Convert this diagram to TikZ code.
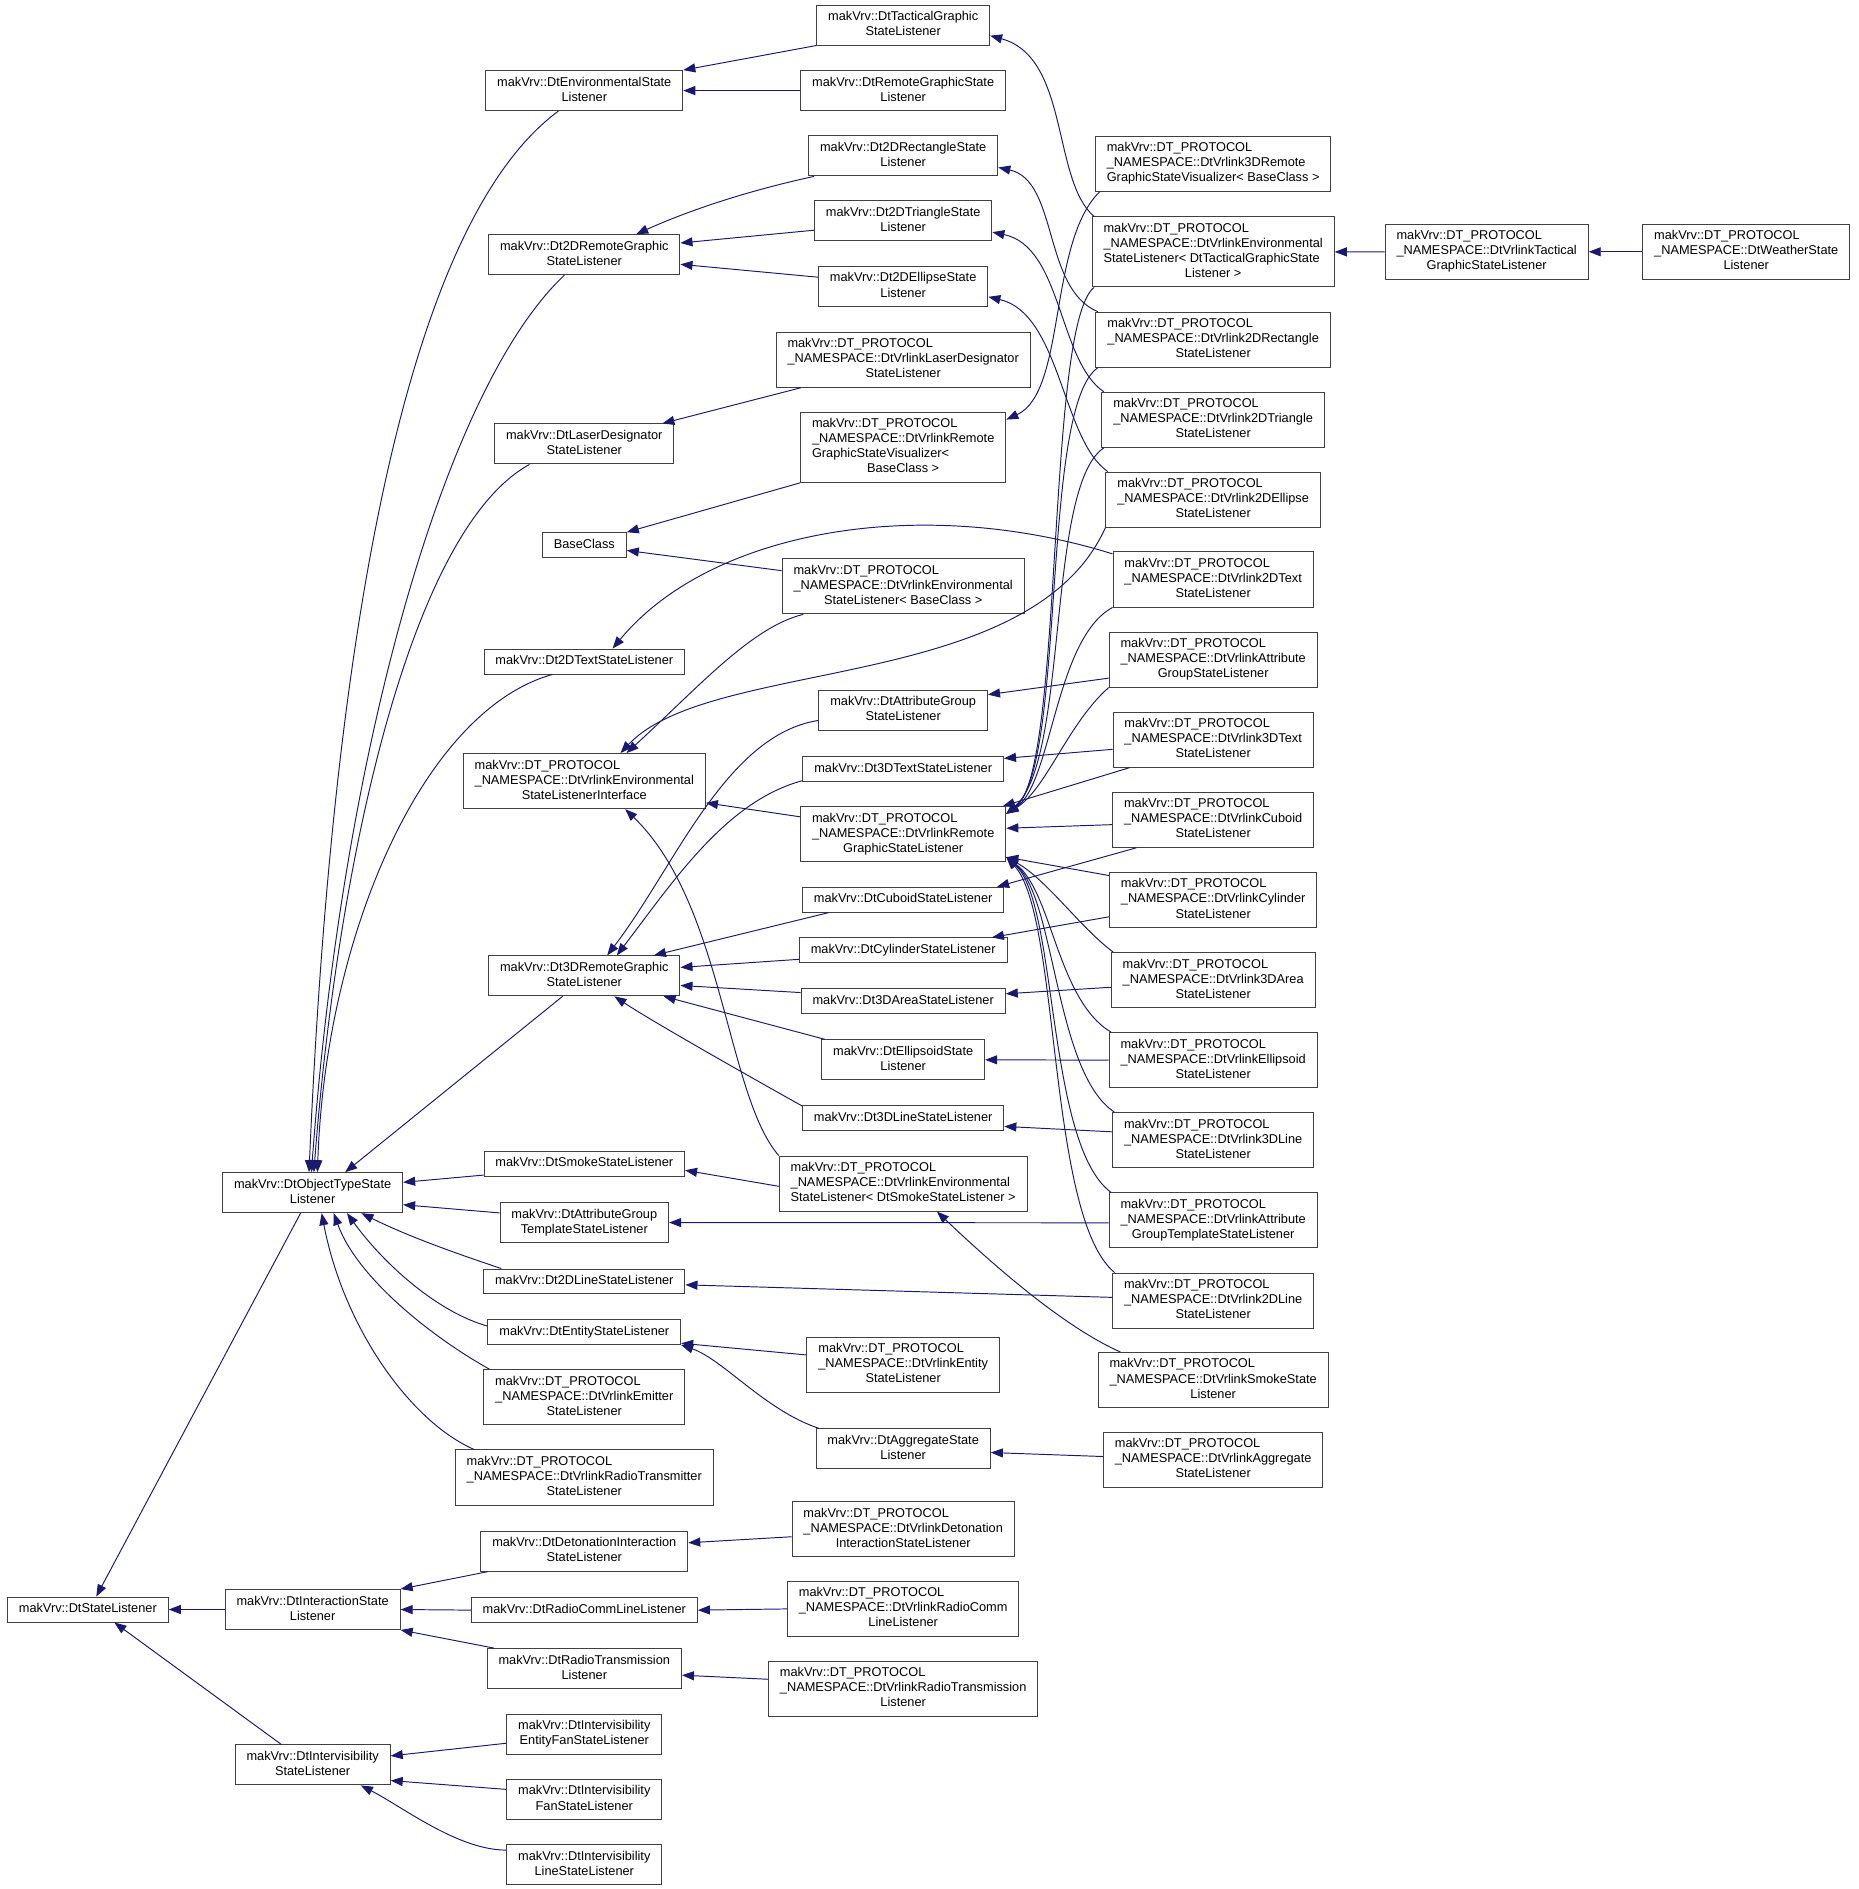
\documentclass[tikz,border=0pt]{standalone}
\usepackage{fontspec}
\setmainfont{Liberation Sans}
\usepackage{tikz}
\usetikzlibrary{arrows.meta, calc}
\definecolor{edgeNavy}{RGB}{25, 25, 112}
\definecolor{boxGray}{RGB}{64, 64, 64}
% first lines left, last line centred
\newcommand{\twoline}[2]{\begin{tabular}{@{}l@{}}#1\\\multicolumn{1}{@{}c@{}}{#2}\end{tabular}}
\newcommand{\oneline}[1]{\begin{tabular}{@{}c@{}}#1\end{tabular}}

\begin{document}
\begin{tikzpicture}[x=1pt, y=-1pt,
    cls/.style={draw=boxGray, line width=0.8pt, fill=white, inner xsep=9.5pt, inner ysep=4.1pt,
        font=\fontsize{10.6}{12.5}\selectfont},
    inh/.style={draw=edgeNavy, line width=0.8pt, {Triangle[length=10pt,width=7.5pt]}-}]
    \useasboundingbox (0,0) rectangle (1543,1568);

    % base classes
    \node[cls] (root) at (72.9,1336) {\oneline{makVrv::DtStateListener}};
    \node[cls] (otsl) at (259.5,990) {\twoline{makVrv::DtObjectTypeState}{Listener}};
    \node[cls] (isl) at (259.5,1336) {\twoline{makVrv::DtInteractionState}{Listener}};
    \node[cls] (ivsl) at (259.5,1465) {\twoline{makVrv::DtIntervisibility}{StateListener}};

    % third column
    \node[cls] (envstate) at (485,75.2) {\twoline{makVrv::DtEnvironmentalState}{Listener}};
    \node[cls] (remote2d) at (485,211.4) {\twoline{makVrv::Dt2DRemoteGraphic}{StateListener}};
    \node[cls] (laser) at (485,368.5) {\twoline{makVrv::DtLaserDesignator}{StateListener}};
    \node[cls] (baseclass) at (485,452.5) {\oneline{BaseClass}};
    \node[cls] (text2d) at (485,549.1) {\oneline{makVrv::Dt2DTextStateListener}};
    \node[cls] (envif) at (485,648.4) {\twoline{makVrv::DT\_PROTOCOL\\\_NAMESPACE::DtVrlinkEnvironmental}{StateListenerInterface}};
    \node[cls] (remote3d) at (485,810) {\twoline{makVrv::Dt3DRemoteGraphic}{StateListener}};
    \node[cls] (smoke) at (485,966) {\oneline{makVrv::DtSmokeStateListener}};
    \node[cls] (attrtmpl) at (485,1014.8) {\twoline{makVrv::DtAttributeGroup}{TemplateStateListener}};
    \node[cls] (line2d) at (485,1063.7) {\oneline{makVrv::Dt2DLineStateListener}};
    \node[cls] (entity) at (485,1105.7) {\oneline{makVrv::DtEntityStateListener}};
    \node[cls] (emitter) at (485,1159.7) {\twoline{makVrv::DT\_PROTOCOL\\\_NAMESPACE::DtVrlinkEmitter}{StateListener}};
    \node[cls] (radiotx) at (485,1226.4) {\twoline{makVrv::DT\_PROTOCOL\\\_NAMESPACE::DtVrlinkRadioTransmitter}{StateListener}};
    \node[cls] (detonation) at (485,1287.6) {\twoline{makVrv::DtDetonationInteraction}{StateListener}};
    \node[cls] (radiocomm) at (485,1336.5) {\oneline{makVrv::DtRadioCommLineListener}};
    \node[cls] (radiotrans) at (485,1385) {\twoline{makVrv::DtRadioTransmission}{Listener}};
    \node[cls] (ivEntityFan) at (485,1439.4) {\twoline{makVrv::DtIntervisibility}{EntityFanStateListener}};
    \node[cls] (ivFan) at (485,1493.7) {\twoline{makVrv::DtIntervisibility}{FanStateListener}};
    \node[cls] (ivLine) at (485,1547.7) {\twoline{makVrv::DtIntervisibility}{LineStateListener}};

    % fourth column
    \node[cls] (tactical) at (749.7,20.8) {\twoline{makVrv::DtTacticalGraphic}{StateListener}};
    \node[cls] (remoteGS) at (749.7,75.2) {\twoline{makVrv::DtRemoteGraphicState}{Listener}};
    \node[cls] (rect2d) at (749.7,129.4) {\twoline{makVrv::Dt2DRectangleState}{Listener}};
    \node[cls] (tri2d) at (749.7,183.4) {\twoline{makVrv::Dt2DTriangleState}{Listener}};
    \node[cls] (ell2d) at (749.7,237.8) {\twoline{makVrv::Dt2DEllipseState}{Listener}};
    \node[cls] (vlaser) at (749.7,298.6) {\twoline{makVrv::DT\_PROTOCOL\\\_NAMESPACE::DtVrlinkLaserDesignator}{StateListener}};
    \node[cls] (vviz) at (749.7,371.3) {\twoline{makVrv::DT\_PROTOCOL\\\_NAMESPACE::DtVrlinkRemote\\GraphicStateVisualizer<}{BaseClass >}};
    \node[cls] (venvBase) at (749.7,486.7) {\twoline{makVrv::DT\_PROTOCOL\\\_NAMESPACE::DtVrlinkEnvironmental}{StateListener< BaseClass >}};
    \node[cls] (attrgrp) at (749.7,589.6) {\twoline{makVrv::DtAttributeGroup}{StateListener}};
    \node[cls] (text3d) at (749.7,638.5) {\oneline{makVrv::Dt3DTextStateListener}};
    \node[cls] (vrgsl) at (749.7,692.5) {\twoline{makVrv::DT\_PROTOCOL\\\_NAMESPACE::DtVrlinkRemote}{GraphicStateListener}};
    \node[cls] (cuboid) at (749.7,746.8) {\oneline{makVrv::DtCuboidStateListener}};
    \node[cls] (cylinder) at (749.7,788.9) {\oneline{makVrv::DtCylinderStateListener}};
    \node[cls] (area3d) at (749.7,830.9) {\oneline{makVrv::Dt3DAreaStateListener}};
    \node[cls] (ellipsoid) at (749.7,879.7) {\twoline{makVrv::DtEllipsoidState}{Listener}};
    \node[cls] (line3d) at (749.7,928) {\oneline{makVrv::Dt3DLineStateListener}};
    \node[cls] (venvSmoke) at (749.7,982.4) {\twoline{makVrv::DT\_PROTOCOL\\\_NAMESPACE::DtVrlinkEnvironmental}{StateListener< DtSmokeStateListener >}};
    \node[cls] (ventity) at (749.7,1132.9) {\twoline{makVrv::DT\_PROTOCOL\\\_NAMESPACE::DtVrlinkEntity}{StateListener}};
    \node[cls] (aggregate) at (749.7,1202.7) {\twoline{makVrv::DtAggregateState}{Listener}};
    \node[cls] (vdeton) at (749.7,1269.4) {\twoline{makVrv::DT\_PROTOCOL\\\_NAMESPACE::DtVrlinkDetonation}{InteractionStateListener}};
    \node[cls] (vradiocomm) at (749.7,1335.5) {\twoline{makVrv::DT\_PROTOCOL\\\_NAMESPACE::DtVrlinkRadioComm}{LineListener}};
    \node[cls] (vradiotrans) at (749.7,1401.9) {\twoline{makVrv::DT\_PROTOCOL\\\_NAMESPACE::DtVrlinkRadioTransmission}{Listener}};

    % fifth column
    \node[cls] (v3dviz) at (1007,135.9) {\twoline{makVrv::DT\_PROTOCOL\\\_NAMESPACE::DtVrlink3DRemote}{GraphicStateVisualizer< BaseClass >}};
    \node[cls] (venvTact) at (1007,209.1) {\twoline{makVrv::DT\_PROTOCOL\\\_NAMESPACE::DtVrlinkEnvironmental\\StateListener< DtTacticalGraphicState}{Listener >}};
    \node[cls] (vrect2d) at (1007,282) {\twoline{makVrv::DT\_PROTOCOL\\\_NAMESPACE::DtVrlink2DRectangle}{StateListener}};
    \node[cls] (vtri2d) at (1007,348.5) {\twoline{makVrv::DT\_PROTOCOL\\\_NAMESPACE::DtVrlink2DTriangle}{StateListener}};
    \node[cls] (vell2d) at (1007,414.7) {\twoline{makVrv::DT\_PROTOCOL\\\_NAMESPACE::DtVrlink2DEllipse}{StateListener}};
    \node[cls] (vtext2d) at (1007,481) {\twoline{makVrv::DT\_PROTOCOL\\\_NAMESPACE::DtVrlink2DText}{StateListener}};
    \node[cls] (vattr) at (1007,547.5) {\twoline{makVrv::DT\_PROTOCOL\\\_NAMESPACE::DtVrlinkAttribute}{GroupStateListener}};
    \node[cls] (vtext3d) at (1007,614) {\twoline{makVrv::DT\_PROTOCOL\\\_NAMESPACE::DtVrlink3DText}{StateListener}};
    \node[cls] (vcuboid) at (1007,680.5) {\twoline{makVrv::DT\_PROTOCOL\\\_NAMESPACE::DtVrlinkCuboid}{StateListener}};
    \node[cls] (vcylinder) at (1007,747) {\twoline{makVrv::DT\_PROTOCOL\\\_NAMESPACE::DtVrlinkCylinder}{StateListener}};
    \node[cls] (varea3d) at (1007,813.5) {\twoline{makVrv::DT\_PROTOCOL\\\_NAMESPACE::DtVrlink3DArea}{StateListener}};
    \node[cls] (vellipsoid) at (1007,880) {\twoline{makVrv::DT\_PROTOCOL\\\_NAMESPACE::DtVrlinkEllipsoid}{StateListener}};
    \node[cls] (vline3d) at (1007,946.5) {\twoline{makVrv::DT\_PROTOCOL\\\_NAMESPACE::DtVrlink3DLine}{StateListener}};
    \node[cls] (vattrtmpl) at (1007,1013) {\twoline{makVrv::DT\_PROTOCOL\\\_NAMESPACE::DtVrlinkAttribute}{GroupTemplateStateListener}};
    \node[cls] (vline2d) at (1007,1079.5) {\twoline{makVrv::DT\_PROTOCOL\\\_NAMESPACE::DtVrlink2DLine}{StateListener}};
    \node[cls] (vsmoke) at (1007,1145.5) {\twoline{makVrv::DT\_PROTOCOL\\\_NAMESPACE::DtVrlinkSmokeState}{Listener}};
    \node[cls] (vaggregate) at (1007,1211.8) {\twoline{makVrv::DT\_PROTOCOL\\\_NAMESPACE::DtVrlinkAggregate}{StateListener}};

    % far right
    \node[cls] (vtactical) at (1234,209) {\twoline{makVrv::DT\_PROTOCOL\\\_NAMESPACE::DtVrlinkTactical}{GraphicStateListener}};
    \node[cls] (weather) at (1449.5,209) {\twoline{makVrv::DT\_PROTOCOL\\\_NAMESPACE::DtWeatherState}{Listener}};

    % StateListener
    \draw[inh] ($(root.north)+(7,0)$) -- ($(otsl.south)+(-10,0)$);
    \draw[inh] (root.east) -- (isl.west);
    \draw[inh] ($(root.south)+(22,0)$) -- ($(ivsl.north)+(-26,0)$);

    % interaction / intervisibility
    \draw[inh] (isl.north east) -- ($(detonation.south west)+(6,0)$);
    \draw[inh] (isl.east) -- (radiocomm.west);
    \draw[inh] (isl.south east) -- ($(radiotrans.north west)+(6,0)$);
    \draw[inh] ($(ivsl.east)+(0,-7.5)$) -- ($(ivEntityFan.west)+(0,7.6)$);
    \draw[inh] ($(ivsl.east)+(0,13)$) -- ($(ivFan.west)+(0,-8.4)$);
    \draw[inh] ($(ivsl.south)+(40,0)$) .. controls +(35,18) and +(-40,0) .. ($(ivLine.west)+(0,-12)$);

    % ObjectTypeState
    \draw[inh] ($(otsl.north)+(-3,0)$) .. controls +(18,-414) and +(-133,98) .. ($(envstate.south)+(-21.5,0)$);
    \draw[inh] ($(otsl.north)+(-1,0)$) .. controls +(26,-354) and +(-98,92) .. ($(remote2d.south)+(-16.5,0)$);
    \draw[inh] ($(otsl.north)+(1,0)$) .. controls +(19.5,-254) and +(-100,55) .. ($(laser.south)+(-45.5,0)$);
    \draw[inh] ($(otsl.north)+(4,0)$) .. controls +(6.5,-194) and +(-108.5,30.4) .. ($(text2d.south)+(-26.5,0)$);
    \draw[inh] ($(otsl.north)+(27,0)$) -- ($(remote3d.south)+(-18,0)$);
    \draw[inh] ($(otsl.east)+(0,-8.6)$) -- ($(smoke.west)+(0,9.4)$);
    \draw[inh] ($(otsl.east)+(0,10)$) -- ($(attrtmpl.west)+(0,-8)$);
    \draw[inh] ($(otsl.south)+(40.5,0)$) .. controls +(40,20) and +(-30,-10) .. ($(line2d.north west)+(15,0)$);
    \draw[inh] ($(otsl.south)+(28.5,0)$) .. controls +(32,44) and +(-40,-11) .. ($(entity.west)+(0,-5)$);
    \draw[inh] ($(otsl.south)+(17.5,0)$) .. controls +(20,55) and +(-45,-25) .. ($(emitter.north west)+(5,0)$);
    \draw[inh] ($(otsl.south)+(7.5,0)$) .. controls +(18,94) and +(-53.5,-23.5) .. ($(radiotx.north west)+(16,0)$);

    % third column bases
    \draw[inh] (envstate.north east) -- (tactical.south west);
    \draw[inh] (envstate.east) -- (remoteGS.west);
    \draw[inh] ($(remote2d.north)+(43,0)$) .. controls +(40,-18) and +(-60,13) .. ($(rect2d.south west)+(5,0)$);
    \draw[inh] ($(remote2d.east)+(0,-9.7)$) -- ($(tri2d.west)+(0,7.7)$);
    \draw[inh] ($(remote2d.east)+(0,8)$) -- ($(ell2d.west)+(0,-7.7)$);
    \draw[inh] ($(laser.north east)+(-10,0)$) -- ($(vlaser.south west)+(21,0)$);
    \draw[inh] (baseclass.north east) -- (vviz.south west);
    \draw[inh] ($(baseclass.east)+(0,4.4)$) -- ($(venvBase.west)+(0,-13)$);
    \draw[inh] ($(text2d.north)+(23.5,0)$) .. controls +(81.5,-98.6) and +(-158.6,-49.5) .. ($(vtext2d.north west)+(0,2)$);
    \draw[inh] ($(envif.north)+(35,0)$) .. controls +(60,-55) and +(-43,10.5) .. ($(venvBase.south west)+(18,0)$);
    \draw[inh] ($(envif.north)+(30,0)$) .. controls +(75,-80) and +(-62,138) .. (vell2d.south west);
    \draw[inh] ($(envif.east)+(0,18)$) -- ($(vrgsl.west)+(0,-14.5)$);
    \draw[inh] ($(envif.south)+(34,0)$) .. controls +(81.5,78.7) and +(-43.4,-49.8) .. (venvSmoke.north west);
    \draw[inh] ($(remote3d.north)+(19,0)$) .. controls +(56,-73) and +(-77,12) .. ($(attrgrp.west)+(0,8.4)$);
    \draw[inh] ($(remote3d.north)+(27,0)$) .. controls +(48,-63) and +(-63,17) .. ($(text3d.west)+(0,9.5)$);
    \draw[inh] ($(remote3d.north east)+(-22,0)$) -- ($(cuboid.south west)+(22,0)$);
    \draw[inh] ($(remote3d.east)+(0,-7)$) -- ($(cylinder.west)+(0,7.4)$);
    \draw[inh] ($(remote3d.east)+(0,8)$) -- ($(area3d.west)+(0,-7)$);
    \draw[inh] ($(remote3d.south east)+(-14,0)$) -- ($(ellipsoid.north west)+(3,0)$);
    \draw[inh] ($(remote3d.south)+(25,0)$) .. controls +(30,20) and +(-50,-28) .. ($(line3d.west)+(0,-10)$);
    \draw[inh] ($(smoke.east)+(0,5.4)$) -- ($(venvSmoke.west)+(0,2.3)$);
    \draw[inh] (attrtmpl.east) -- ($(vattrtmpl.west)+(0,2)$);
    \draw[inh] ($(line2d.east)+(0,2.8)$) -- ($(vline2d.west)+(0,-2.6)$);
    \draw[inh] ($(entity.east)+(0,9.3)$) -- ($(ventity.west)+(0,-8.2)$);
    \draw[inh] (entity.south east) .. controls +(35,12) and +(-45,-15) .. ($(aggregate.north west)+(3,0)$);
    \draw[inh] ($(detonation.east)+(0,-7)$) -- ($(vdeton.west)+(0,6.2)$);
    \draw[inh] (radiocomm.east) -- (vradiocomm.west);
    \draw[inh] ($(radiotrans.east)+(0,5.5)$) -- ($(vradiotrans.west)+(0,-8)$);

    % fourth column bases
    \draw[inh] ($(tactical.east)+(0,8.8)$) .. controls +(66,18) and +(-35,-30) .. ($(venvTact.north west)+(2,0)$);
    \draw[inh] ($(rect2d.east)+(0,9.6)$) .. controls +(50,11) and +(-46,-19) .. ($(vrect2d.north west)+(2,0)$);
    \draw[inh] ($(tri2d.east)+(0,9.3)$) .. controls +(58,12) and +(-38,-26) .. ($(vtri2d.north west)+(2,0)$);
    \draw[inh] ($(ell2d.east)+(0,8.6)$) .. controls +(60,14) and +(-38,-26) .. ($(vell2d.north west)+(2,0)$);
    \draw[inh] ($(vviz.east)+(0,-23)$) .. controls +(50,-23) and +(-43,42) .. ($(v3dviz.south west)+(4,0)$);
    \draw[inh] ($(attrgrp.east)+(0,-13)$) -- ($(vattr.west)+(0,15.4)$);
    \draw[inh] ($(text3d.east)+(0,-9)$) -- ($(vtext3d.west)+(0,8)$);
    \draw[inh] ($(cuboid.north east)+(-6,0)$) -- ($(vcuboid.south west)+(20,0)$);
    \draw[inh] ($(cylinder.north east)+(-13,0)$) -- ($(vcylinder.west)+(0,14)$);
    \draw[inh] ($(area3d.east)+(0,-6)$) -- ($(varea3d.west)+(0,6)$);
    \draw[inh] (ellipsoid.east) -- (vellipsoid.west);
    \draw[inh] ($(line3d.east)+(0,7)$) -- ($(vline3d.west)+(0,-7)$);
    \draw[inh] ($(venvSmoke.south)+(28,0)$) .. controls +(40,38) and +(-50,-22) .. ($(vsmoke.north west)+(19,0)$);
    \draw[inh] ($(aggregate.east)+(0,3)$) -- ($(vaggregate.west)+(0,-2.8)$);

    % RemoteGraphicStateListener
    \draw[inh] ($(vrgsl.east)+(0,-17)$) .. controls +(48,-35) and +(-40,32) .. ($(venvTact.south west)+(2,0)$);
    \draw[inh] ($(vrgsl.east)+(0,-17)$) .. controls +(50,-40) and +(-48,32) .. ($(vrect2d.south west)+(2,0)$);
    \draw[inh] ($(vrgsl.east)+(0,-17)$) .. controls +(52,-45) and +(-48,32) .. ($(vtri2d.south west)+(2,0)$);
    \draw[inh] ($(vrgsl.east)+(0,-17)$) .. controls +(38,-25) and +(-48,26) .. (vtext2d.south west);
    \draw[inh] ($(vrgsl.east)+(0,-17)$) .. controls +(33,-20) and +(-34,30) .. (vattr.south west);
    \draw[inh] ($(vrgsl.north east)+(-3,0)$) -- ($(vtext3d.south west)+(14,0)$);
    \draw[inh] ($(vrgsl.east)+(0,-5)$) -- ($(vcuboid.west)+(0,4)$);
    \draw[inh] ($(vrgsl.east)+(0,19)$) -- ($(vcylinder.north west)+(0,3)$);
    \draw[inh] ($(vrgsl.east)+(0,19)$) .. controls +(33,18) and +(-27,-20) .. ($(varea3d.north west)+(2,0)$);
    \draw[inh] ($(vrgsl.east)+(0,19)$) .. controls +(38,28) and +(-45,-27) .. ($(vellipsoid.north west)+(2,0)$);
    \draw[inh] ($(vrgsl.east)+(0,19)$) .. controls +(41,33) and +(-50,-33) .. ($(vline3d.north west)+(2,0)$);
    \draw[inh] ($(vrgsl.east)+(0,19)$) .. controls +(43,38) and +(-54,-40) .. ($(vattrtmpl.north west)+(2,0)$);
    \draw[inh] ($(vrgsl.east)+(0,19)$) .. controls +(45,48) and +(-56,-46) .. ($(vline2d.north west)+(2,0)$);

    % tactical chain
    \draw[inh] (venvTact.east) -- (vtactical.west);
    \draw[inh] (vtactical.east) -- (weather.west);
\end{tikzpicture}
\end{document}
